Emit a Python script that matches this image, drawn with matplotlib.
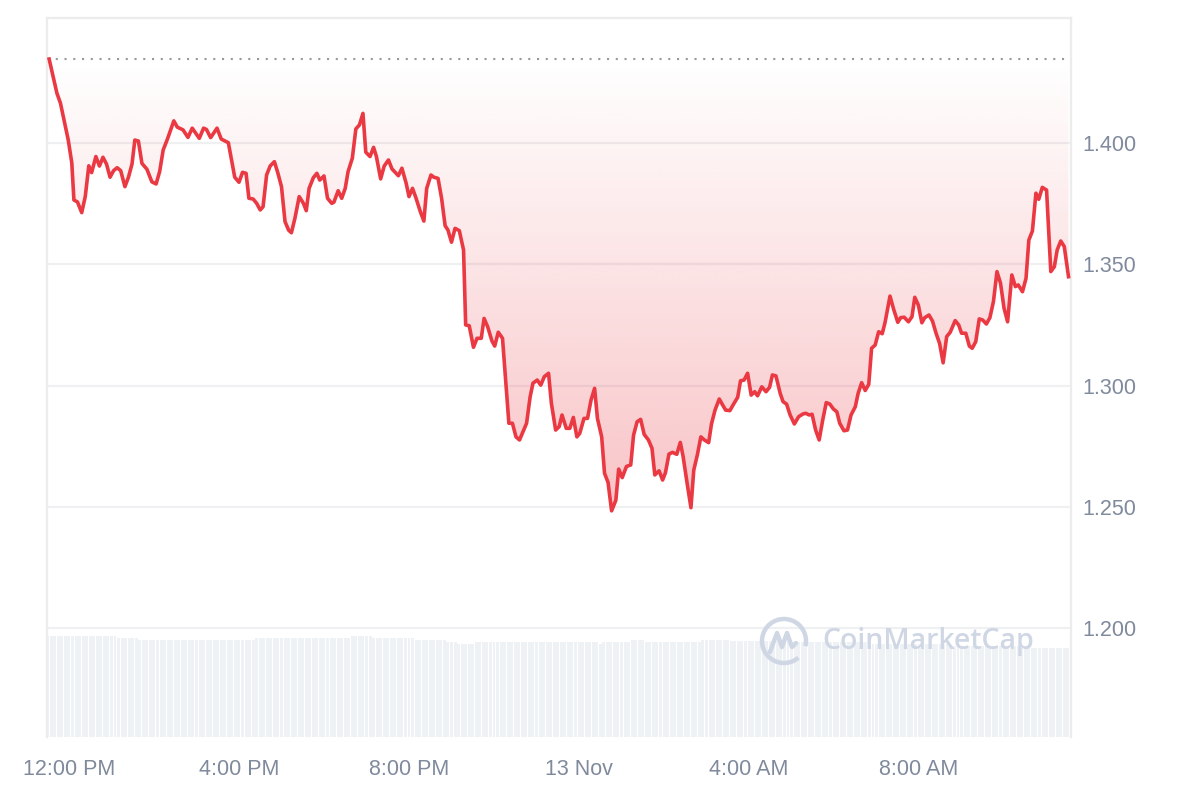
import numpy as np
import matplotlib
matplotlib.use("Agg")
import matplotlib.pyplot as plt
from matplotlib.patches import Arc
from matplotlib.lines import Line2D

# minutes after 12:00 PM (12 Nov) and price in USD
minutes = [-28, -17, -12, -1, 4, 7, 12, 18, 23, 28, 32, 38, 43, 48, 53, 58, 63, 68, 73, 79,
           84, 89, 93, 98, 103, 110, 117, 123, 128, 133, 139, 148, 153, 161, 168, 174, 184, 190, 194, 200,
           209, 215, 225, 234, 240, 245, 250, 254, 260, 265, 270, 274, 279, 284, 290, 295, 300, 305, 310, 314,
           319, 325, 331, 335, 339, 345, 350, 354, 360, 365, 371, 374, 380, 385, 390, 394, 400, 405, 410, 415,
           419, 425, 430, 434, 440, 445, 451, 456, 465, 470, 476, 480, 485, 490, 496, 501, 505, 511, 515, 521,
           526, 531, 535, 540, 545, 551, 557, 560, 565, 571, 576, 582, 586, 591, 597, 601, 606, 612, 616, 621,
           626, 631, 636, 641, 646, 651, 655, 661, 666, 671, 677, 681, 687, 692, 696, 702, 707, 712, 717, 721,
           727, 732, 737, 742, 746, 752, 756, 761, 766, 772, 776, 781, 787, 793, 797, 802, 807, 812, 818, 823,
           827, 833, 838, 842, 847, 852, 858, 863, 867, 873, 878, 882, 887, 892, 897, 903, 907, 912, 918, 922,
           927, 933, 938, 944, 948, 953, 958, 963, 968, 972, 978, 984, 989, 993, 998, 1004, 1008, 1013, 1018, 1024,
           1030, 1036, 1040, 1045, 1049, 1054, 1059, 1064, 1069, 1074, 1079, 1084, 1088, 1094, 1099, 1104, 1110, 1114, 1119, 1124,
           1129, 1133, 1138, 1143, 1148, 1152, 1159, 1164, 1170, 1174, 1179, 1185, 1190, 1194, 1199, 1204, 1208, 1214, 1219, 1224,
           1229, 1234, 1239, 1244, 1251, 1256, 1260, 1266, 1271, 1275, 1280, 1285, 1290, 1295, 1300, 1305, 1310, 1315, 1320, 1325,
           1331, 1336, 1340, 1346, 1351, 1355, 1360, 1365, 1369, 1374, 1380, 1386, 1391, 1395, 1400, 1405, 1411]

prices = [1.4346, 1.4205, 1.4164, 1.4012, 1.3918, 1.3765, 1.3757, 1.3713, 1.3779, 1.3906,
          1.3878, 1.3944, 1.3905, 1.3941, 1.3913, 1.3859, 1.3886, 1.3898, 1.3886, 1.3820,
          1.3859, 1.3913, 1.4012, 1.4008, 1.3916, 1.3892, 1.3840, 1.3831, 1.3882, 1.3971,
          1.4016, 1.4091, 1.4065, 1.4054, 1.4023, 1.4061, 1.4019, 1.4061, 1.4056, 1.4022,
          1.4061, 1.4016, 1.4001, 1.3859, 1.3838, 1.3879, 1.3875, 1.3772, 1.3769, 1.3751,
          1.3724, 1.3737, 1.3868, 1.3905, 1.3923, 1.3875, 1.3820, 1.3676, 1.3641, 1.3630,
          1.3690, 1.3779, 1.3751, 1.3721, 1.3813, 1.3857, 1.3875, 1.3847, 1.3864, 1.3772,
          1.3751, 1.3756, 1.3803, 1.3772, 1.3813, 1.3882, 1.3937, 1.4058, 1.4074, 1.4122,
          1.3962, 1.3944, 1.3982, 1.3944, 1.3852, 1.3905, 1.3930, 1.3893, 1.3865, 1.3896,
          1.3834, 1.3779, 1.3813, 1.3772, 1.3717, 1.3678, 1.3813, 1.3868, 1.3859, 1.3854,
          1.3772, 1.3659, 1.3641, 1.3591, 1.3648, 1.3639, 1.3559, 1.3250, 1.3247, 1.3158,
          1.3195, 1.3195, 1.3277, 1.3243, 1.3185, 1.3163, 1.3220, 1.3195, 1.3037, 1.2845,
          1.2845, 1.2789, 1.2776, 1.2810, 1.2845, 1.2954, 1.3010, 1.3023, 1.3002, 1.3037,
          1.3051, 1.2927, 1.2817, 1.2831, 1.2879, 1.2824, 1.2824, 1.2869, 1.2789, 1.2803,
          1.2865, 1.2865, 1.2941, 1.2989, 1.2865, 1.2789, 1.2639, 1.2601, 1.2484, 1.2528,
          1.2656, 1.2621, 1.2667, 1.2673, 1.2796, 1.2851, 1.2861, 1.2799, 1.2776, 1.2742,
          1.2632, 1.2649, 1.2611, 1.2641, 1.2718, 1.2725, 1.2717, 1.2766, 1.2707, 1.2590,
          1.2497, 1.2652, 1.2714, 1.2789, 1.2776, 1.2765, 1.2842, 1.2899, 1.2945, 1.2924,
          1.2899, 1.2897, 1.2923, 1.2952, 1.3020, 1.3023, 1.3051, 1.2961, 1.2975, 1.2958,
          1.2995, 1.2975, 1.2993, 1.3044, 1.3040, 1.2968, 1.2934, 1.2924, 1.2879, 1.2842,
          1.2872, 1.2883, 1.2886, 1.2879, 1.2882, 1.2817, 1.2776, 1.2858, 1.2930, 1.2924,
          1.2904, 1.2892, 1.2845, 1.2814, 1.2817, 1.2879, 1.2913, 1.2968, 1.3012, 1.2980,
          1.3005, 1.3154, 1.3167, 1.3222, 1.3214, 1.3260, 1.3369, 1.3316, 1.3261, 1.3280,
          1.3282, 1.3263, 1.3284, 1.3364, 1.3332, 1.3259, 1.3280, 1.3291, 1.3266, 1.3216,
          1.3174, 1.3094, 1.3202, 1.3220, 1.3268, 1.3250, 1.3216, 1.3216, 1.3163, 1.3154,
          1.3181, 1.3275, 1.3270, 1.3254, 1.3280, 1.3346, 1.3470, 1.3422, 1.3319, 1.3263,
          1.3456, 1.3408, 1.3415, 1.3387, 1.3442, 1.3600, 1.3637, 1.3793, 1.3768, 1.3817,
          1.3806, 1.3470, 1.3490, 1.3559, 1.3596, 1.3573, 1.3449]

# 5-minute volume bars: levels (M USD) and how many bars stay at each level
vol_levels = [50.5, 49.5, 48.5, 49.5, 50.5, 49.5, 48.5, 47.5, 46.5, 47.5,
              46.5, 47.5, 48.5, 47.5, 48.5, 48.0, 47.5, 46.5, 45.5, 44.5]
vol_counts = [20, 6, 33, 27, 6, 12, 9, 3, 5, 35, 1, 8, 4, 16, 8, 17, 22, 23, 20, 14]
vol_start = -30

tick_pos = [0, 240, 480, 720, 960, 1200]
tick_labels = ["12:00 PM", "4:00 PM", "8:00 PM", "13 Nov", "4:00 AM", "8:00 AM"]
y_ticks = [1.200, 1.250, 1.300, 1.350, 1.400]

RED = "#ea3943"
GREY_TXT = "#808a9d"

t = np.array(minutes, dtype=float)
p = np.array(prices)
base = p[0]

fig = plt.figure(figsize=(12, 8), dpi=100)
ax = fig.add_axes([47 / 1200, 1 - 737 / 800, 1024 / 1200, 719 / 800])
ax.set_xlim(-31, 1414.5)
ax.set_ylim(1.1552, 1.4515)

# volume on its own scale
vax = ax.twinx()
vol = np.repeat(vol_levels, vol_counts)
vt = vol_start + 5 * np.arange(len(vol))
vax.bar(vt, vol, width=4.2, color="#eff2f5", zorder=0)
vax.set_ylim(0, max(vol_levels) * 719 / 101)
vax.set_axis_off()
ax.set_zorder(vax.get_zorder() + 1)
ax.patch.set_visible(False)

for yv in y_ticks:
    ax.axhline(yv, color="#eff0f2", lw=1.6, zorder=0.5)

# gradient fill between line and opening price
fill = ax.fill_between(t, p, base, color="none", lw=0)
n = 256
grad = np.zeros((n, 1, 4))
grad[:, 0, 0] = 234 / 255
grad[:, 0, 1] = 57 / 255
grad[:, 0, 2] = 67 / 255
grad[:, 0, 3] = np.linspace(0.30, 0.0, n)
im = ax.imshow(grad, extent=[t[0], t[-1], p.min(), base], origin="lower",
               aspect="auto", zorder=1, interpolation="bilinear")
im.set_clip_path(fill.get_paths()[0], transform=ax.transData)

ax.axhline(base, color="#999999", lw=1.5, ls=(0, (1, 3.2)), zorder=2)
ax.plot(t, p, color=RED, lw=2.6, zorder=3, solid_joinstyle="round")

ax.set_xticks(tick_pos)
ax.set_xticklabels(tick_labels)
ax.yaxis.tick_right()
ax.set_yticks(y_ticks)
ax.set_yticklabels([f"{v:.3f}" for v in y_ticks])
ax.tick_params(axis="both", length=0, labelsize=15.5, colors=GREY_TXT)
ax.tick_params(axis="x", pad=16)
ax.tick_params(axis="y", pad=8)
for lab in ax.get_xticklabels() + ax.get_yticklabels():
    lab.set_fontfamily("Liberation Sans")
for s in ax.spines.values():
    s.set_color("#ececec")
    s.set_linewidth(1.6)
ax.spines["bottom"].set_visible(False)

# watermark
WM = "#cfd6e4"
cx, cy, r = 784 / 1200, 1 - 641 / 800, 22
fig.add_artist(Arc((cx, cy), 2 * r / 1200, 2 * r / 800, theta1=-20, theta2=300,
                   transform=fig.transFigure, color=WM, lw=3.2, zorder=5))
mx = [-14, -7, -2, 3, 8, 12]
my = [-11, 8, -6, 8, -6, -2]
fig.add_artist(Line2D([cx + v / 1200 for v in mx], [cy + v / 800 for v in my],
                      transform=fig.transFigure, color=WM, lw=3.2,
                      solid_joinstyle="round", solid_capstyle="round", zorder=5))
fig.text(822 / 1200, cy, "CoinMarketCap", color=WM, fontsize=20.5, fontweight="semibold",
         family="Open Sans", va="center", ha="left", zorder=5)

fig.savefig("out.png", dpi=100)
